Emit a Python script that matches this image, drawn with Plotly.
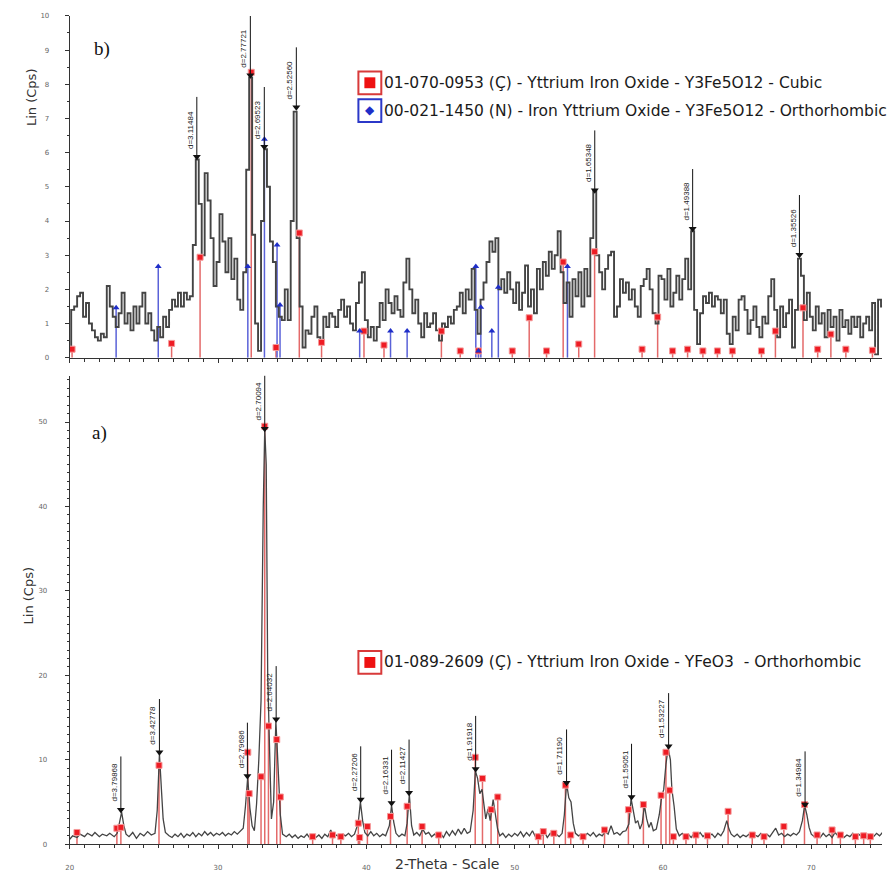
import plotly.graph_objects as go

W, H = 894, 879

# ---------------- Panel b) (top) ----------------
top_start = 20.0
top_step = 0.2
top_y = [
    0.3, 1.4, 1.5, 1.8, 1.9, 1.2, 1.6, 1.0, 0.8, 0.6,   # 20.0-21.8
    0.5, 0.7, 0.6, 2.1, 1.5, 1.2, 0.9, 1.3, 1.9, 1.0,   # 22.0-23.8
    1.3, 0.8, 1.5, 1.0, 1.5, 1.9, 1.0, 1.3, 0.8, 0.5,   # 24.0-25.8
    0.9, 0.6, 1.2, 0.9, 1.4, 1.7, 1.5, 1.9, 1.5, 1.9,   # 26.0-27.8
    1.7, 1.8, 3.3, 5.8, 4.5, 3.0, 5.4, 4.6, 3.5, 2.1,   # 28.0-29.8
    2.8, 4.2, 3.4, 2.5, 3.5, 2.3, 2.9, 1.7, 1.4, 2.5,   # 30.0-31.8
    5.5, 8.2, 3.6, 1.0, 0.2, 4.0, 6.1, 5.0, 3.4, 2.8,   # 32.0-33.8
    1.5, 1.2, 1.1, 2.0, 1.1, 4.0, 7.2, 3.5, 1.5, 0.3,   # 34.0-35.8
    0.8, 0.7, 1.2, 1.5, 0.6, 0.4, 1.2, 0.9, 1.3, 1.2,   # 36.0-37.8
    0.9, 1.4, 1.7, 1.2, 1.5, 1.0, 0.8, 1.6, 2.2, 2.5,   # 38.0-39.8
    1.1, 0.6, 0.9, 0.5, 0.9, 1.6, 1.1, 2.0, 1.6, 1.3,   # 40.0-41.8
    1.8, 1.4, 1.2, 2.2, 2.9, 2.0, 1.3, 1.7, 1.0, 0.6,   # 42.0-43.8
    1.3, 0.9, 1.0, 1.3, 0.8, 0.5, 1.0, 0.9, 1.2, 1.0,   # 44.0-45.8
    1.4, 1.5, 1.9, 1.3, 2.0, 1.7, 2.6, 1.4, 0.7, 1.7,   # 46.0-47.8
    2.2, 2.8, 3.4, 3.1, 3.5, 2.0, 2.3, 1.9, 2.5, 2.0,   # 48.0-49.8
    1.6, 2.2, 1.4, 1.9, 2.7, 1.5, 2.0, 1.3, 2.6, 2.0,   # 50.0-51.8
    2.8, 2.4, 3.1, 2.6, 3.0, 3.7, 2.5, 1.6, 2.2, 1.2,   # 52.0-53.8
    2.3, 1.8, 2.5, 1.5, 2.6, 1.8, 3.5, 4.9, 3.0, 2.5,   # 54.0-55.8
    2.0, 2.6, 3.0, 3.1, 1.2, 1.5, 2.3, 1.9, 2.2, 1.7,   # 56.0-57.8
    2.0, 1.5, 1.2, 2.1, 2.3, 2.6, 2.0, 1.3, 1.0, 2.4,   # 58.0-59.8
    2.3, 1.7, 2.6, 1.5, 1.9, 2.4, 1.7, 2.3, 2.9, 2.0,   # 60.0-61.8
    3.7, 1.4, 0.4, 1.3, 1.8, 1.6, 1.9, 1.5, 1.8, 1.7,   # 62.0-63.8
    1.3, 1.7, 0.7, 0.4, 1.2, 0.8, 1.7, 1.8, 1.4, 0.7,   # 64.0-65.8
    1.1, 1.5, 0.9, 0.6, 1.2, 1.0, 1.8, 2.3, 1.4, 0.6,   # 66.0-67.8
    1.5, 0.9, 1.3, 1.7, 0.3, 1.4, 2.9, 2.4, 1.1, 1.9,   # 68.0-69.8
    1.2, 0.8, 1.5, 1.0, 1.3, 0.6, 1.4, 0.9, 1.2, 0.5,   # 70.0-71.8
    1.4, 0.9, 1.1, 0.7, 1.2, 0.9, 1.2, 0.6, 1.0, 1.2,   # 72.0-73.8
    0.8, 1.6, 0.1, 1.7, 1.5,                            # 74.0-74.8
]
top_x = [round(top_start + top_step * i, 2) for i in range(len(top_y))]

top_red_x = [20.16, 26.87, 28.79, 32.24, 33.91, 35.48, 36.98, 39.84, 41.19, 45.06,
             46.33, 47.56, 49.84, 50.98, 52.15, 53.27, 54.32, 55.39, 58.59, 59.64,
             60.65, 61.66, 62.69, 63.67, 64.68, 66.64, 67.58, 69.44, 70.43, 71.32,
             72.33, 74.12]
top_red_h = [0.25, 0.42, 2.94, 8.35, 0.3, 3.65, 0.45, 0.78, 0.37, 0.78,
             0.2, 0.2, 0.2, 1.17, 0.2, 2.8, 0.4, 3.1, 0.25, 1.19,
             0.2, 0.25, 0.2, 0.2, 0.2, 0.2, 0.78, 1.46, 0.25, 0.69,
             0.25, 0.22]

top_blue_x = [23.13, 25.97, 32.01, 33.13, 33.98, 34.18, 39.55, 41.63, 42.75, 47.38,
              47.56, 47.72, 48.46, 48.9, 53.56]
top_blue_h = [1.46, 2.67, 2.67, 6.39, 3.3, 1.54, 0.78, 0.78, 0.78, 2.67,
              0.2, 1.48, 0.78, 2.06, 2.67]

top_peak_x = [28.57, 32.18, 33.12, 35.28, 55.4, 62.0, 69.2]
top_peak_y = [5.88, 8.26, 6.17, 7.33, 4.9, 3.77, 3.01]
top_peak_lbl = ["d=3.11484", "d=2.77721", "d=2.69523", "d=2.52560",
                "d=1.65348", "d=1.49388", "d=1.35526"]

# ---------------- Panel a) (bottom) ----------------
bot_x = [20.0, 20.2, 20.5, 20.7, 21.0, 21.2, 21.5, 21.7, 22.0, 22.2, 22.5, 22.7,
         23.0, 23.2, 23.35, 23.5, 23.65, 23.8, 24.0, 24.25, 24.5, 24.75, 25.0,
         25.25, 25.5, 25.75, 25.9, 26.05, 26.2, 26.3, 26.45, 26.7, 26.9, 27.1,
         27.3, 27.5, 27.7, 27.9, 28.1, 28.3, 28.5, 28.7, 28.9, 29.1, 29.3, 29.5,
         29.7, 29.9, 30.1, 30.3, 30.5, 30.7, 30.9, 31.1, 31.3, 31.5, 31.7, 31.85,
         32.0, 32.15, 32.3, 32.45, 32.6, 32.75, 32.9, 33.05, 33.15, 33.25, 33.35,
         33.5, 33.6, 33.75, 33.9, 34.0, 34.1, 34.2, 34.35, 34.6, 34.8, 35.0, 35.2,
         35.4, 35.6, 35.8, 36.0, 36.2, 36.4, 36.6, 36.8, 37.0, 37.2, 37.4, 37.6,
         37.8, 38.0, 38.2, 38.4, 38.6, 38.8, 39.0, 39.2, 39.45, 39.6, 39.75, 39.9,
         40.1, 40.3, 40.5, 40.7, 40.9, 41.1, 41.3, 41.55, 41.7, 41.85, 42.0, 42.2,
         42.4, 42.6, 42.75, 42.9, 43.05, 43.2, 43.4, 43.6, 43.8, 44.0, 44.2, 44.4,
         44.6, 44.8, 45.0, 45.2, 45.4, 45.6, 45.8, 46.0, 46.2, 46.4, 46.6, 46.8,
         47.0, 47.2, 47.35, 47.5, 47.65, 47.8, 47.9, 48.05, 48.2, 48.35, 48.55,
         48.7, 48.85, 49.0, 49.2, 49.4, 49.6, 49.8, 50.0, 50.2, 50.4, 50.6, 50.8,
         51.0, 51.2, 51.4, 51.6, 51.8, 52.0, 52.2, 52.4, 52.6, 52.8, 53.0, 53.2,
         53.35, 53.5, 53.65, 53.8, 53.95, 54.1, 54.3, 54.5, 54.7, 54.9, 55.1, 55.3,
         55.5, 55.7, 55.9, 56.1, 56.3, 56.5, 56.7, 56.9, 57.1, 57.3, 57.5, 57.7,
         57.85, 58.0, 58.15, 58.3, 58.45, 58.6, 58.75, 58.9, 59.05, 59.2, 59.35,
         59.55, 59.75, 59.9, 60.05, 60.2, 60.35, 60.5, 60.6, 60.75, 60.9, 61.1,
         61.3, 61.5, 61.7, 61.9, 62.1, 62.3, 62.5, 62.7, 62.9, 63.1, 63.3, 63.5,
         63.7, 63.9, 64.1, 64.3, 64.45, 64.6, 64.8, 65.0, 65.2, 65.4, 65.6, 65.8,
         66.0, 66.2, 66.4, 66.6, 66.8, 67.0, 67.2, 67.4, 67.6, 67.8, 68.0, 68.2,
         68.4, 68.6, 68.8, 69.0, 69.2, 69.4, 69.55, 69.7, 69.85, 70.0, 70.2, 70.4,
         70.6, 70.8, 71.0, 71.2, 71.4, 71.6, 71.8, 72.0, 72.2, 72.4, 72.6, 72.8,
         73.0, 73.2, 73.4, 73.6, 73.8, 74.0, 74.2, 74.4, 74.6, 74.8]
bot_y = [0.6, 1.0, 0.8, 1.2, 0.9, 1.3, 1.0, 1.4, 0.9, 1.2, 1.0, 1.3,
         0.9, 1.3, 2.5, 3.8, 2.2, 1.2, 0.9, 1.4, 0.7, 1.3, 1.0,
         1.5, 1.1, 1.3, 4.0, 10.7, 6.0, 3.0, 1.4, 1.0, 0.8, 1.2,
         0.9, 1.3, 0.8, 1.2, 1.0, 1.4, 0.9, 1.3, 1.0, 1.5, 1.1, 1.4,
         1.0, 1.3, 1.1, 1.4, 1.0, 1.3, 1.1, 1.5, 1.2, 1.6, 1.9, 4.5,
         7.9, 4.3, 2.2, 1.6, 4.8, 10.0, 17.0, 40.0, 49.2, 45.0, 20.0,
         9.5, 3.0, 5.0, 14.6, 11.0, 6.0, 3.5, 1.2, 0.9, 1.2, 0.8, 1.1,
         0.7, 1.0, 0.8, 1.2, 0.7, 1.0, 0.8, 1.1, 0.7, 1.2, 0.9, 1.7,
         0.8, 1.1, 0.8, 1.2, 1.0, 1.3, 0.9, 1.2, 2.5, 5.0, 2.8, 1.4,
         1.0, 1.5, 1.0, 1.3, 0.9, 1.2, 1.0, 2.2, 4.6, 2.6, 1.3, 0.9,
         1.2, 1.0, 2.5, 5.9, 2.2, 1.1, 1.4, 1.0, 1.8, 1.2, 1.4, 0.9,
         1.2, 1.0, 1.3, 0.8, 1.5, 1.0, 1.6, 1.1, 1.8, 1.2, 1.9, 1.3,
         1.5, 4.0, 8.7, 7.8, 6.0, 6.5, 5.0, 3.0, 4.2, 2.8, 5.3,
         3.5, 1.8, 1.0, 1.3, 0.8, 1.2, 0.9, 1.3, 1.0, 1.5, 0.9, 1.4,
         1.0, 1.6, 0.9, 1.2, 1.0, 1.5, 0.8, 1.3, 1.0, 1.2, 0.9, 1.3,
         3.5, 7.2, 5.5, 5.0, 2.5, 1.3, 1.0, 1.2, 0.9, 1.3, 1.0, 1.4,
         0.9, 1.2, 1.0, 1.5, 1.2, 2.2, 1.2, 1.4, 1.1, 1.5, 1.6, 2.4,
         5.4, 4.0, 2.5, 2.8, 1.8, 2.5, 4.6, 3.0, 2.0, 2.6, 1.6,
         1.8, 3.5, 5.5, 6.5, 9.5, 11.4, 10.0, 6.5, 4.5, 1.8, 1.0,
         1.3, 0.9, 1.2, 0.8, 1.3, 1.0, 1.4, 0.9, 1.3, 1.0, 1.2, 0.8,
         1.3, 1.0, 1.6, 2.8, 1.8, 1.2, 0.9, 1.2, 0.8, 1.1, 0.9, 1.2,
         0.8, 1.1, 0.9, 1.3, 1.0, 1.2, 0.9, 1.4, 1.9, 1.1, 1.3, 0.9,
         1.2, 1.0, 1.3, 1.1, 1.5, 2.8, 4.6, 3.5, 2.0, 1.2, 0.9, 1.2,
         0.8, 1.3, 0.9, 1.2, 0.8, 1.4, 1.0, 1.2, 0.8, 1.1, 0.9, 1.3,
         0.8, 1.2, 0.9, 1.1, 0.8, 1.2, 0.9, 1.3, 1.0, 1.4]

bot_red_x = [20.49, 23.18, 23.45, 26.02, 32.01, 32.1, 32.9, 33.15, 33.4, 33.96,
             34.2, 36.38, 37.72, 38.28, 39.46, 39.55, 40.07, 41.63, 42.75, 43.76,
             44.88, 47.34, 47.83, 48.41, 48.86, 51.59, 51.93, 52.64, 53.42, 53.78,
             54.61, 56.06, 57.67, 58.68, 59.87, 60.2, 60.45, 60.7, 61.55, 62.22,
             63.0, 64.39, 66.02, 66.81, 68.15, 69.54, 70.39, 71.4, 71.96, 72.97,
             73.53, 73.98]
bot_red_h = [1.4, 1.9, 2.0, 9.35, 10.9, 6.0, 8.0, 49.5, 14.0, 12.4,
             5.6, 0.9, 1.1, 0.9, 2.5, 0.8, 2.1, 3.3, 4.5, 2.1,
             1.1, 10.3, 7.8, 4.1, 5.6, 0.9, 1.5, 1.3, 7.0, 1.1,
             0.9, 1.7, 4.1, 4.7, 5.8, 10.9, 6.4, 0.9, 0.9, 1.1,
             1.0, 3.9, 1.1, 0.9, 2.1, 4.7, 1.1, 1.7, 1.1, 0.9,
             1.0, 0.9]

bot_peak_x = [23.45, 26.05, 31.98, 33.15, 33.92, 39.62, 41.7, 42.88, 47.37,
              53.5, 57.88, 60.38, 69.58]
bot_peak_y = [4.1, 10.9, 8.1, 49.2, 14.8, 5.3, 4.9, 6.1, 8.9, 7.3, 5.6, 11.6, 4.7]
bot_peak_lbl = ["d=3.79868", "d=3.42778", "d=2.79686", "d=2.70094", "d=2.64032",
                "d=2.27206", "d=2.16331", "d=2.11427", "d=1.91918", "d=1.71190",
                "d=1.59051", "d=1.53227", "d=1.34984"]

x_range = [20, 74.77]
x_ticks = [20, 30, 40, 50, 60, 70]

PROFILE = "#444444"
RED_LINE = "#e46a6a"
RED_MK = "#ee1c24"
BLUE_LINE = "#5a62d8"
BLUE_MK = "#1f2ec8"


def px(v):
    return v / W


def py(v):
    return 1 - v / H


def sticks(xs, hs):
    sx, sy = [], []
    for a, b in zip(xs, hs):
        sx += [a, a, None]
        sy += [0, b, None]
    return sx, sy


def label_lines(xs, ys, L):
    sx, sy = [], []
    for a, b in zip(xs, ys):
        sx += [a, a, None]
        sy += [b, b + L, None]
    return sx, sy


fig = go.Figure()

# ---- top traces (x2, y2)
rx, ry = sticks(top_red_x, top_red_h)
fig.add_trace(go.Scatter(x=rx, y=ry, mode="lines", line=dict(color=RED_LINE, width=1.5),
                         xaxis="x2", yaxis="y2", hoverinfo="skip"))
bx, by = sticks(top_blue_x, top_blue_h)
fig.add_trace(go.Scatter(x=bx, y=by, mode="lines", line=dict(color=BLUE_LINE, width=1.5),
                         xaxis="x2", yaxis="y2", hoverinfo="skip"))
fig.add_trace(go.Scatter(x=top_x, y=top_y, mode="lines",
                         line=dict(color=PROFILE, width=1.9, shape="hvh"),
                         xaxis="x2", yaxis="y2"))
fig.add_trace(go.Scatter(x=top_red_x, y=top_red_h, mode="markers",
                         marker=dict(symbol="square", size=6, color=RED_MK,
                                     line=dict(color="#f59a9a", width=1)),
                         xaxis="x2", yaxis="y2"))
fig.add_trace(go.Scatter(x=top_blue_x, y=top_blue_h, mode="markers",
                         marker=dict(symbol="triangle-up", size=6, color=BLUE_MK),
                         xaxis="x2", yaxis="y2"))
lx, ly = label_lines(top_peak_x, top_peak_y, 1.75)
fig.add_trace(go.Scatter(x=lx, y=ly, mode="lines", line=dict(color="#111", width=1),
                         xaxis="x2", yaxis="y2", cliponaxis=False, hoverinfo="skip"))
fig.add_trace(go.Scatter(x=top_peak_x, y=top_peak_y, mode="markers",
                         marker=dict(symbol="triangle-down", size=7, color="#111"),
                         xaxis="x2", yaxis="y2", cliponaxis=False))

# ---- bottom traces (x, y)
rx, ry = sticks(bot_red_x, bot_red_h)
fig.add_trace(go.Scatter(x=rx, y=ry, mode="lines", line=dict(color=RED_LINE, width=1.5),
                         hoverinfo="skip"))
fig.add_trace(go.Scatter(x=bot_x, y=bot_y, mode="lines",
                         line=dict(color=PROFILE, width=1.3)))
fig.add_trace(go.Scatter(x=bot_red_x, y=bot_red_h, mode="markers",
                         marker=dict(symbol="square", size=6, color=RED_MK,
                                     line=dict(color="#f59a9a", width=1))))
lx, ly = label_lines(bot_peak_x, bot_peak_y, 6.3)
fig.add_trace(go.Scatter(x=lx, y=ly, mode="lines", line=dict(color="#111", width=1),
                         cliponaxis=False, hoverinfo="skip"))
fig.add_trace(go.Scatter(x=bot_peak_x, y=bot_peak_y, mode="markers",
                         marker=dict(symbol="triangle-down", size=7, color="#111"),
                         cliponaxis=False))

annotations = []
for xv, yv, t in zip(top_peak_x, top_peak_y, top_peak_lbl):
    annotations.append(dict(x=xv, y=yv, xref="x2", yref="y2", text=t, textangle=-90,
                            showarrow=False, xanchor="right", yanchor="bottom",
                            xshift=0, yshift=6,
                            font=dict(family="Liberation Sans", size=8, color="#222")))
for xv, yv, t in zip(bot_peak_x, bot_peak_y, bot_peak_lbl):
    annotations.append(dict(x=xv, y=yv, xref="x", yref="y", text=t, textangle=-90,
                            showarrow=False, xanchor="right", yanchor="bottom",
                            xshift=0, yshift=6,
                            font=dict(family="Liberation Sans", size=8, color="#222")))

LEG_FONT = dict(family="DejaVu Sans", size=15.5, color="#1a1a1a")
annotations += [
    dict(x=px(380), y=py(80), xref="paper", yref="paper", xanchor="left", yanchor="middle",
         showarrow=False, text="01-070-0953 (Ç) - Yttrium Iron Oxide - Y3Fe5O12 - Cubic",
         font=LEG_FONT),
    dict(x=px(380), y=py(108), xref="paper", yref="paper", xanchor="left", yanchor="middle",
         showarrow=False, text="00-021-1450 (N) - Iron Yttrium Oxide - Y3Fe5O12 - Orthorhombic",
         font=LEG_FONT),
    dict(x=px(368), y=py(107), xref="paper", yref="paper", xanchor="center", yanchor="middle",
         showarrow=False, text="◆", font=dict(family="DejaVu Sans", size=12, color=BLUE_MK)),
    dict(x=px(380), y=py(664), xref="paper", yref="paper", xanchor="left", yanchor="middle",
         showarrow=False, text="01-089-2609 (Ç) - Yttrium Iron Oxide - YFeO3  - Orthorhombic",
         font=LEG_FONT),
    dict(x=px(88), y=py(45), xref="paper", yref="paper", xanchor="left", yanchor="middle",
         showarrow=False, text="b)", font=dict(family="Liberation Serif", size=19, color="#111")),
    dict(x=px(86), y=py(433), xref="paper", yref="paper", xanchor="left", yanchor="middle",
         showarrow=False, text="a)", font=dict(family="Liberation Serif", size=19, color="#111")),
    dict(x=px(27), y=py(94), xref="paper", yref="paper", xanchor="center", yanchor="middle",
         showarrow=False, text="Lin (Cps)", textangle=-90,
         font=dict(family="DejaVu Sans", size=13, color="#333")),
    dict(x=px(25), y=py(597), xref="paper", yref="paper", xanchor="center", yanchor="middle",
         showarrow=False, text="Lin (Cps)", textangle=-90,
         font=dict(family="DejaVu Sans", size=13, color="#333")),
    dict(x=px(445), y=py(868), xref="paper", yref="paper", xanchor="center", yanchor="middle",
         showarrow=False, text="2-Theta - Scale",
         font=dict(family="DejaVu Sans", size=14, color="#333")),
]

shapes = [
    dict(type="rect", xref="paper", yref="paper", x0=px(356), x1=px(379), y0=py(91), y1=py(68),
         line=dict(color="#d83a3a", width=2), fillcolor="white"),
    dict(type="rect", xref="paper", yref="paper", x0=px(362), x1=px(373), y0=py(85), y1=py(74),
         line=dict(color="#e01010", width=0), fillcolor="#ee1111"),
    dict(type="rect", xref="paper", yref="paper", x0=px(356), x1=px(379), y0=py(119), y1=py(96),
         line=dict(color="#2b38c8", width=2), fillcolor="rgba(0,0,0,0)"),
    dict(type="rect", xref="paper", yref="paper", x0=px(356), x1=px(379), y0=py(676), y1=py(653),
         line=dict(color="#d83a3a", width=2), fillcolor="white"),
    dict(type="rect", xref="paper", yref="paper", x0=px(362), x1=px(373), y0=py(670), y1=py(659),
         line=dict(color="#e01010", width=0), fillcolor="#ee1111"),
]

TICKFONT = dict(family="DejaVu Sans", size=7, color="#666")
common_x = dict(range=x_range, showgrid=False, zeroline=False, showline=True,
                linecolor="#333", linewidth=1, ticks="outside", ticklen=4, tickcolor="#333",
                tickvals=x_ticks, minor=dict(dtick=1, ticks="outside", ticklen=3,
                                             tickcolor="#333"),
                domain=[px(66), px(882)])
fig.update_layout(
    width=W, height=H, margin=dict(l=0, r=0, t=0, b=0),
    paper_bgcolor="white", plot_bgcolor="white", showlegend=False,
    font=dict(family="DejaVu Sans"),
    xaxis=dict(**common_x, anchor="y", tickfont=TICKFONT, ticklabelstandoff=12),
    xaxis2=dict(**common_x, anchor="y2", showticklabels=False),
    yaxis=dict(range=[0, 55.5], domain=[py(848), py(375)], showgrid=False, zeroline=False,
               showline=True, linecolor="#333", linewidth=1, ticks="outside", ticklen=4,
               tickcolor="#333", tickvals=[0, 10, 20, 30, 40, 50], tickfont=TICKFONT,
               ticklabelstandoff=16,
               minor=dict(dtick=1, ticks="outside", ticklen=2, tickcolor="#333"),
               anchor="x"),
    yaxis2=dict(range=[0, 10], domain=[py(357), py(12)], showgrid=False, zeroline=False,
                showline=True, linecolor="#333", linewidth=1, ticks="outside", ticklen=4,
                tickcolor="#333", tickvals=list(range(0, 11)), tickfont=TICKFONT,
                ticklabelstandoff=14,
                minor=dict(dtick=0.5, ticks="outside", ticklen=2, tickcolor="#333"),
                anchor="x2"),
    annotations=annotations,
    shapes=shapes,
)

fig.write_html("out.html")
